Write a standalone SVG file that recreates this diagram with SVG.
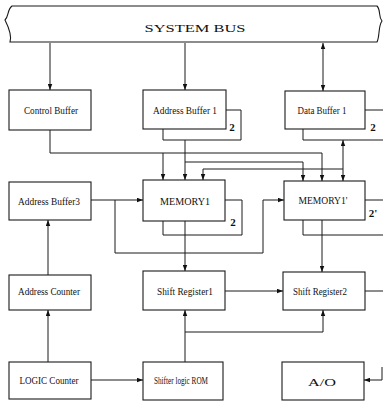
<svg xmlns="http://www.w3.org/2000/svg" width="383" height="403" viewBox="0 0 383 403">
<defs>
<style>
.box{fill:#fff;stroke:#1a1a1a;stroke-width:1.1}
.ln{fill:none;stroke:#1a1a1a;stroke-width:1}
.t{font-family:"Liberation Serif","Times New Roman",serif;font-size:10.5px;fill:#111;text-anchor:middle}
.n{font-family:"Liberation Serif","Times New Roman",serif;font-size:11px;font-weight:bold;fill:#111;text-anchor:middle}
</style>
<marker id="ah" viewBox="0 0 8 6" refX="8" refY="3" markerWidth="6" markerHeight="5" markerUnits="userSpaceOnUse" orient="auto-start-reverse">
<path d="M0,0 L8,3 L0,6 z" fill="#111"/>
</marker>
</defs>
<rect width="383" height="403" fill="#fff"/>
<g id="bus">
<path class="box" d="M12 6 H377 C381 10 378 16 382 21 C378 26 380 36 377 42 H10 C12 36 8 26 5 20 C9 16 7 10 12 6 Z"/>
<text class="t" x="195" y="32" font-size="13" textLength="101" lengthAdjust="spacingAndGlyphs">SYSTEM BUS</text>
</g>
<g id="connectors">
<path class="ln" d="M50 43 V90" marker-end="url(#ah)"/>
<path class="ln" d="M185 43 V90" marker-end="url(#ah)"/>
<path class="ln" d="M323 43 V91" marker-start="url(#ah)" marker-end="url(#ah)"/>
<path class="ln" d="M50 130 V153 H322 V181" marker-end="url(#ah)"/>
<path class="ln" d="M163 153 V180" marker-end="url(#ah)"/>
<path class="ln" d="M226 110 H241 V140 H163 V129"/>
<path class="ln" d="M185 140 V180" marker-end="url(#ah)"/>
<path class="ln" d="M185 162 H303 V181" marker-end="url(#ah)"/>
<path class="ln" d="M365 110 H383 M303 129 V140 H383"/>
<path class="ln" d="M343 181 V140" marker-start="url(#ah)" marker-end="url(#ah)"/>
<path class="ln" d="M343 169 H203 V180" marker-end="url(#ah)"/>
<path class="ln" d="M91 200 H143" marker-end="url(#ah)"/>
<path class="ln" d="M115 200 V253 H263 V200 H284" marker-end="url(#ah)"/>
<path class="ln" d="M225 200 H242 V235 H163 V221"/>
<path class="ln" d="M185 221 V271" marker-end="url(#ah)"/>
<path class="ln" d="M365 200 H383 M303 220 V235 H383"/>
<path class="ln" d="M322 220 V272" marker-end="url(#ah)"/>
<path class="ln" d="M48 275 V220" marker-end="url(#ah)"/>
<path class="ln" d="M48 362 V310" marker-end="url(#ah)"/>
<path class="ln" d="M91 380 H143" marker-end="url(#ah)"/>
<path class="ln" d="M185 362 V310" marker-end="url(#ah)"/>
<path class="ln" d="M185 332 H323 V310" marker-end="url(#ah)"/>
<path class="ln" d="M225 291 H283" marker-end="url(#ah)"/>
<path class="ln" d="M365 291 H383"/>
<path class="ln" d="M382 367 V380 H364" marker-end="url(#ah)"/>
</g>
<g id="control-buffer"><rect class="box" x="9" y="90" width="82" height="40"/><text class="t" x="51" y="114" textLength="54" lengthAdjust="spacingAndGlyphs">Control Buffer</text></g>
<g id="address-buffer-1"><rect class="box" x="143" y="90" width="83" height="39"/><text class="t" x="185" y="114" textLength="64" lengthAdjust="spacingAndGlyphs">Address Buffer 1</text><text class="n" x="232" y="131">2</text></g>
<g id="data-buffer-1"><rect class="box" x="285" y="91" width="80" height="38"/><text class="t" x="322" y="114" textLength="49" lengthAdjust="spacingAndGlyphs">Data Buffer 1</text><text class="n" x="373" y="131">2</text></g>
<g id="address-buffer-3"><rect class="box" x="9" y="182" width="82" height="38"/><text class="t" x="49" y="205" textLength="62" lengthAdjust="spacingAndGlyphs">Address Buffer3</text></g>
<g id="memory-1"><rect class="box" x="143" y="180" width="82" height="41"/><text class="t" x="185" y="205" font-size="11.5" textLength="50" lengthAdjust="spacingAndGlyphs">MEMORY1</text><text class="n" x="233" y="226">2</text></g>
<g id="memory-1p"><rect class="box" x="284" y="181" width="81" height="39"/><text class="t" x="323" y="204" font-size="11.5" textLength="49" lengthAdjust="spacingAndGlyphs">MEMORY1'</text><text class="n" x="373" y="217">2'</text></g>
<g id="address-counter"><rect class="box" x="9" y="275" width="82" height="35"/><text class="t" x="49" y="295" textLength="62" lengthAdjust="spacingAndGlyphs">Address Counter</text></g>
<g id="shift-register-1"><rect class="box" x="143" y="271" width="82" height="39"/><text class="t" x="185" y="295" textLength="56" lengthAdjust="spacingAndGlyphs">Shift Register1</text></g>
<g id="shift-register-2"><rect class="box" x="283" y="272" width="82" height="38"/><text class="t" x="320" y="295" textLength="54" lengthAdjust="spacingAndGlyphs">Shift Register2</text></g>
<g id="logic-counter"><rect class="box" x="9" y="362" width="82" height="37"/><text class="t" x="49" y="384" textLength="59" lengthAdjust="spacingAndGlyphs">LOGIC Counter</text></g>
<g id="shifter-logic-rom"><rect class="box" x="143" y="362" width="80" height="38"/><text class="t" x="181" y="384" font-size="9.5" textLength="54" lengthAdjust="spacingAndGlyphs">Shifter logic ROM</text></g>
<g id="a-o"><rect class="box" x="282" y="362" width="82" height="38"/><text class="t" x="322" y="386" font-size="15" textLength="28" lengthAdjust="spacingAndGlyphs">A/O</text></g>
</svg>
